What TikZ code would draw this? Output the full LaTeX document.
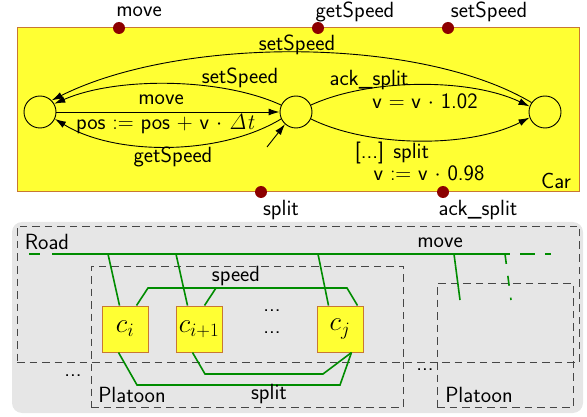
\RequirePackage{fix-cm}
\documentclass[tikz,border=0pt]{standalone}
\usetikzlibrary{arrows.meta}
\definecolor{caryellow}{RGB}{255,255,51}
\definecolor{carborder}{RGB}{200,120,50}
\definecolor{portred}{RGB}{140,0,0}
\definecolor{linkgreen}{RGB}{0,140,0}
\definecolor{bggray}{RGB}{230,230,230}
\definecolor{dashgray}{RGB}{70,70,70}
\begin{document}
\begin{tikzpicture}[x=1pt,y=-1pt,
  every node/.style={font=\sffamily\fontsize{22}{25}\selectfont, inner sep=0pt},
  state/.style={circle, draw, line width=0.9pt, minimum size=32pt},
  trans/.style={line width=0.9pt, -{Latex[length=11pt,width=7pt]}},
  port/.style={circle, fill=portred, minimum size=12pt},
  carbox/.style={fill=caryellow, draw=carborder, line width=1pt},
  compbox/.style={fill=caryellow, draw=carborder, line width=1pt, minimum size=46pt, font=\fontsize{27}{30}\selectfont},
  dashbox/.style={draw=dashgray, line width=0.9pt, dash pattern=on 7.5pt off 5pt},
  link/.style={draw=linkgreen, line width=1.6pt},
]
\useasboundingbox (0,0) rectangle (587,417);
% ---------- Car automaton ----------
\node[carbox, minimum width=562pt, minimum height=164pt] (car) at (298,110) {};
\node (carlbl) at (556,181) {Car};
\node[port] (pmove) at (119,28) {};
\node[port] (pget) at (318,28) {};
\node[port] (pset) at (448,28) {};
\node[port] (psplit) at (261,192) {};
\node[port] (pack) at (443,192) {};
\node (lmove) at (139,12) {move};
\node (lget) at (355,12) {getSpeed};
\node (lset) at (489,12) {setSpeed};
\node (lsplit) at (281,210) {split};
\node (lack) at (478,210) {ack\_split};

\node[state] (L) at (40,112) {};
\node[state] (M) at (296,112) {};
\node[state] (R) at (545,112) {};
\coordinate (init) at (267,147);

\draw[trans] (L.east) -- (M.west);
\node (tmove) at (161,100) {move};
\node (tpos) at (166,124) {pos $:=$ pos $+$ v $\cdot$ $\mathit{\Delta t}$};

\draw[trans] (M.155) .. controls (220,77) and (115,77) .. (L.30);
\node (tset1) at (240,78) {setSpeed};
\draw[trans] (M.205) .. controls (220,156) and (115,156) .. (L.-25);
\node (tget) at (173,157) {getSpeed};
\draw[trans] (R.145) .. controls (420,36) and (180,36) .. (L.45);
\node (tset2) at (297,45) {setSpeed};
\draw[trans] (M.25) .. controls (370,78) and (470,78) .. (R.160);
\node (tack) at (369,80) {ack\_split};
\node (tack2) at (425,101) {v $=$ v $\cdot$ 1.02};
\draw[trans] (M.-25) .. controls (370,148) and (470,148) .. (R.-160);
\node (tsplit) at (392,153) {[...] split};
\node (tsplit2) at (429,173) {v $:=$ v $\cdot$ 0.98};
\draw[trans] (init) -- (M.228);

% ---------- Road / Platoon ----------
\node[fill=bggray, rounded corners=10pt, minimum width=571pt, minimum height=191pt] (bg) at (297.5,317.5) {};
\node[dashbox, minimum width=562pt, minimum height=136pt] (road) at (298,294) {};
\node[dashbox, minimum width=312pt, minimum height=141pt] (pl1) at (247,336.5) {};
\node[dashbox, minimum width=136pt, minimum height=124pt] (pl2) at (505,345) {};
\node (roadlbl) at (47,242) {Road};
\node (pl1lbl) at (132,395) {Platoon};
\node (pl2lbl) at (479,395) {Platoon};
\node (dotsa) at (73,376) {...};
\node (dotsb) at (425,370) {...};
\node (dotsc) at (272,311) {...};
\node (dotsd) at (272,333) {...};

\node[compbox] (ci) at (125,329) {$c_i$};
\node[compbox] (cii) at (199,329) {$c_{i+1}$};
\node[compbox] (cj) at (340,329) {$c_j$};

% road line
\coordinate (rA) at (29,254);
\coordinate (rB) at (40,254);
\coordinate (rC) at (52,254);
\coordinate (rD) at (510,254);
\coordinate (rE) at (520,254);
\coordinate (rF) at (535,254);
\coordinate (rG) at (545,254);
\coordinate (rH) at (551,254);
\draw[link] (rA) -- (rB);
\draw[link] (rC) -- (rD);
\draw[link] (rE) -- (rF);
\draw[link] (rG) -- (rH);
\node (roadmove) at (440,243) {move};

\coordinate (ri) at (108,254);
\coordinate (rii) at (176,254);
\coordinate (rj) at (318,254);
\coordinate (rp) at (454,254);
\coordinate (rpe) at (460,300);
\coordinate (rq) at (505,254);
\coordinate (rqe) at (511,300);
\draw[link] (ri) -- ([xshift=18pt]ci.north west);
\draw[link] (rii) -- ([xshift=12pt]cii.north west);
\draw[link] (rj) -- ([xshift=12pt]cj.north west);
\draw[link] (rp) -- (rpe);
\draw[link, dash pattern=on 10pt off 12pt] (rq) -- (rqe);

% speed channel
\coordinate (s1) at (148,288);
\coordinate (s2) at (347,288);
\coordinate (s3) at (216,288);
\draw[link] ([xshift=35pt]ci.north west) -- (s1) -- (s2) -- ([xshift=41pt]cj.north west);
\draw[link] ([xshift=29pt]cii.north west) -- (s3);
\node (speedlbl) at (236,276) {speed};

% split channel
\coordinate (t1) at (137,385);
\coordinate (t2) at (340,385);
\coordinate (t3) at (205,374);
\coordinate (t4) at (323,374);
\draw[link] ([xshift=17pt]ci.south west) -- (t1) -- (t2) -- ([xshift=35pt]cj.south west);
\draw[link] ([xshift=17pt]cii.south west) -- (t3) -- (t4) -- ([xshift=35pt]cj.south west);
\node (splitlbl) at (269,394) {split};
\end{tikzpicture}
\end{document}
